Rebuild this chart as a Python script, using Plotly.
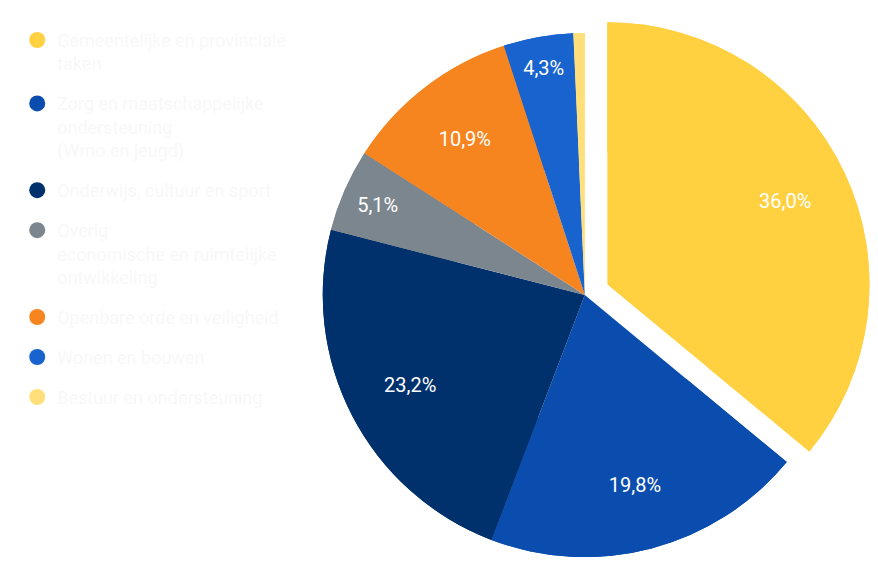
import plotly.graph_objects as go

# slice order: clockwise from 12 o'clock
categories = [
    "Gemeentelijke en provinciale<br>taken",
    "Zorg en maatschappelijke<br>ondersteuning<br>(Wmo en jeugd)",
    "Onderwijs, cultuur en sport",
    "Overig<br>economische en ruimtelijke<br>ontwikkeling",
    "Openbare orde en veiligheid",
    "Wonen en bouwen",
    "Bestuur en ondersteuning",
]
shares = [36.0, 19.8, 23.2, 5.1, 10.9, 4.3, 0.7]
slice_labels = ["36,0%", "19,8%", "23,2%", "5,1%", "10,9%", "4,3%", ""]
colors = ["#FFD141", "#0B4DAE", "#00316C", "#7C868E", "#F7851F", "#1863CE", "#FFDF7A"]
pulls = [0.095, 0, 0, 0, 0, 0, 0]

pie_domain = dict(x=[0.329, 0.985], y=[0, 1])
flat_labels = [c.replace("<br>", " ") for c in categories]

fig = go.Figure()

# full pie underneath (fills the hole of the labelled ring)
fig.add_trace(
    go.Pie(
        labels=flat_labels,
        values=shares,
        textinfo="none",
        marker=dict(colors=colors, line=dict(width=0)),
        pull=pulls,
        sort=False,
        direction="clockwise",
        rotation=0,
        hoverinfo="skip",
        showlegend=False,
        domain=pie_domain,
    )
)

# ring on top, only used so the labels sit further out
fig.add_trace(
    go.Pie(
        labels=flat_labels,
        values=shares,
        text=slice_labels,
        textinfo="text",
        textposition="inside",
        insidetextorientation="horizontal",
        textfont=dict(family="Roboto", size=20, color="#ffffff"),
        marker=dict(colors=colors, line=dict(width=0)),
        pull=pulls,
        hole=0.5,
        sort=False,
        direction="clockwise",
        rotation=0,
        hoverinfo="label+percent",
        showlegend=False,
        domain=pie_domain,
    )
)

# legend entries drawn as round markers
for name, col in zip(categories, colors):
    fig.add_trace(
        go.Scatter(
            x=[None],
            y=[None],
            mode="markers",
            name=name,
            legendgroup=name,
            marker=dict(size=16, color=col, symbol="circle"),
        )
    )

fig.update_xaxes(visible=False)
fig.update_yaxes(visible=False)

fig.update_layout(
    width=878,
    height=586,
    margin=dict(l=0, r=0, t=0, b=12),
    paper_bgcolor="white",
    plot_bgcolor="white",
    font=dict(family="Roboto", size=18, color="#f8f8f8"),
    uniformtext=dict(minsize=20, mode="show"),
    legend=dict(
        x=0.0105,
        y=0.976,
        xanchor="left",
        yanchor="top",
        valign="top",
        tracegroupgap=13.6,
        font=dict(family="Roboto", size=18, color="#f8f8f8"),
        bgcolor="rgba(0,0,0,0)",
    ),
)

fig.write_html("out.html")
